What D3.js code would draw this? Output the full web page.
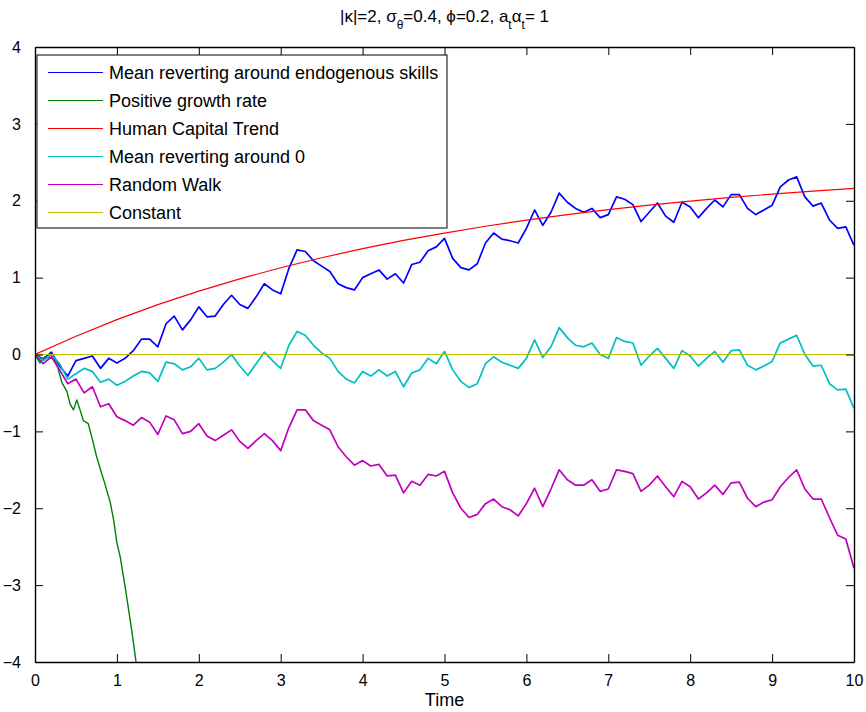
<!DOCTYPE html>
<html>
<head>
<meta charset="utf-8">
<script src="https://cdn.jsdelivr.net/npm/d3@7"></script>
<style>
  body { margin: 0; background: #fff; }
  svg { font-family: "Liberation Sans", Arial, Helvetica, sans-serif; }
  .axis text { font-size: 16px; fill: #000; }
  .axis path, .axis line { stroke: #000; }
  .legend text { font-size: 18px; fill: #000; }
</style>
</head>
<body>
<div class="chart"></div>
<script>
// time grid shared by the three noisy paths
const timeGrid = [0, 0.1, 0.2, 0.3, 0.4, 0.5, 0.6, 0.7, 0.8, 0.9,
  1, 1.1, 1.2, 1.3, 1.4, 1.5, 1.6, 1.7, 1.8, 1.9,
  2, 2.1, 2.2, 2.3, 2.4, 2.5, 2.6, 2.7, 2.8, 2.9,
  3, 3.1, 3.2, 3.3, 3.4, 3.5, 3.6, 3.7, 3.8, 3.9,
  4, 4.1, 4.2, 4.3, 4.4, 4.5, 4.6, 4.7, 4.8, 4.9,
  5, 5.1, 5.2, 5.3, 5.4, 5.5, 5.6, 5.7, 5.8, 5.9,
  6, 6.1, 6.2, 6.3, 6.4, 6.5, 6.6, 6.7, 6.8, 6.9,
  7, 7.1, 7.2, 7.3, 7.4, 7.5, 7.6, 7.7, 7.8, 7.9,
  8, 8.1, 8.2, 8.3, 8.4, 8.5, 8.6, 8.7, 8.8, 8.9,
  9, 9.1, 9.2, 9.3, 9.4, 9.5, 9.6, 9.7, 9.8, 9.9, 10]

const meanRevEndo = [0, -0.06, 0.03, -0.15, -0.28, -0.08, -0.05, -0.02, -0.18, -0.05,
  -0.11, -0.05, 0.05, 0.2, 0.2, 0.1, 0.4, 0.5, 0.32, 0.45,
  0.62, 0.49, 0.5, 0.65, 0.77, 0.65, 0.6, 0.75, 0.92, 0.84,
  0.79, 1.12, 1.36, 1.34, 1.22, 1.15, 1.08, 0.92, 0.87, 0.84,
  1.0, 1.05, 1.1, 0.98, 1.05, 0.93, 1.17, 1.2, 1.35, 1.4,
  1.51, 1.25, 1.13, 1.1, 1.18, 1.45, 1.58, 1.5, 1.48, 1.45,
  1.64, 1.88, 1.68, 1.85, 2.1, 1.98, 1.9, 1.85, 1.9, 1.78,
  1.82, 2.05, 2.02, 1.95, 1.73, 1.85, 1.97, 1.8, 1.72, 1.98,
  1.92, 1.78, 1.9, 2.01, 1.92, 2.08, 2.08, 1.9, 1.82, 1.88,
  1.94, 2.18, 2.27, 2.31, 2.05, 1.93, 1.97, 1.75, 1.64, 1.66, 1.42]

const meanRevZero = [0, -0.08, 0.0, -0.12, -0.32, -0.25, -0.18, -0.22, -0.36, -0.32,
  -0.4, -0.35, -0.28, -0.22, -0.24, -0.35, -0.1, -0.12, -0.2, -0.16,
  -0.05, -0.2, -0.18, -0.1, 0.0, -0.15, -0.27, -0.12, 0.03, -0.08,
  -0.18, 0.12, 0.3, 0.25, 0.12, 0.02, -0.05, -0.22, -0.32, -0.37,
  -0.22, -0.28, -0.2, -0.28, -0.22, -0.42, -0.24, -0.2, -0.05, -0.12,
  0.04, -0.2, -0.35, -0.43, -0.38, -0.12, -0.03, -0.1, -0.14, -0.18,
  -0.05, 0.19, -0.04, 0.1, 0.35, 0.22, 0.12, 0.1, 0.15, 0.0,
  -0.05, 0.22, 0.17, 0.15, -0.14, -0.02, 0.08, -0.05, -0.18, 0.05,
  -0.02, -0.15, -0.05, 0.04, -0.1, 0.05, 0.06, -0.14, -0.2, -0.15,
  -0.09, 0.15, 0.2, 0.25, 0.0, -0.15, -0.14, -0.38, -0.46, -0.45, -0.7]

const randomWalk = [0, -0.12, -0.03, -0.2, -0.38, -0.32, -0.5, -0.42, -0.68, -0.64,
  -0.81, -0.86, -0.92, -0.82, -0.88, -1.04, -0.8, -0.85, -1.03, -1.0,
  -0.9, -1.06, -1.12, -1.05, -0.98, -1.13, -1.22, -1.12, -1.03, -1.12,
  -1.25, -0.95, -0.72, -0.72, -0.86, -0.92, -0.98, -1.2, -1.33, -1.44,
  -1.38, -1.45, -1.43, -1.58, -1.57, -1.8, -1.65, -1.7, -1.56, -1.58,
  -1.52, -1.8, -2.0, -2.12, -2.08, -1.94, -1.88, -1.98, -2.02, -2.1,
  -1.94, -1.74, -1.98, -1.75, -1.5, -1.63, -1.7, -1.7, -1.63, -1.78,
  -1.75, -1.5, -1.52, -1.55, -1.78, -1.7, -1.58, -1.72, -1.85, -1.65,
  -1.72, -1.88, -1.8, -1.7, -1.82, -1.67, -1.66, -1.87, -1.98, -1.92,
  -1.89, -1.72, -1.6, -1.5, -1.75, -1.88, -1.88, -2.12, -2.35, -2.4, -2.78]

// smooth human capital trend
const trendTimes = [0, 0.5, 1, 1.5, 2, 2.5, 3, 3.5, 4, 4.5, 5, 5.5, 6, 6.5, 7, 7.5, 8, 8.5, 9, 9.5, 10]
const trendValues = [0, 0.238, 0.453, 0.648, 0.824, 0.984, 1.128, 1.258, 1.377, 1.484, 1.58,
  1.668, 1.747, 1.819, 1.884, 1.942, 1.995, 2.043, 2.087, 2.126, 2.162]

// positive growth rate path (leaves the frame at -4)
const growthTimes = [0, 0.06, 0.12, 0.18, 0.22, 0.28, 0.33, 0.39, 0.43, 0.47, 0.51, 0.55, 0.59,
  0.65, 0.7, 0.75, 0.8, 0.85, 0.92, 0.96, 1.0, 1.04, 1.1, 1.14, 1.18, 1.24]
const growthValues = [0, -0.11, -0.03, -0.05, -0.02, -0.18, -0.37, -0.48, -0.65, -0.72, -0.59, -0.72, -0.86,
  -0.9, -1.1, -1.32, -1.5, -1.67, -1.93, -2.15, -2.45, -2.63, -3.02, -3.3, -3.58, -4.05]

const constantTimes = [0, 10]
const constantValues = [0, 0]

const xTicks = [0, 1, 2, 3, 4, 5, 6, 7, 8, 9, 10]
const yTicks = [-4, -3, -2, -1, 0, 1, 2, 3, 4]

const seriesLabels = ['Mean reverting around endogenous skills', 'Positive growth rate',
  'Human Capital Trend', 'Mean reverting around 0', 'Random Walk', 'Constant']
const seriesColors = ['#0000ff', '#008000', '#ff0000', '#00bfbf', '#bf00bf', '#bfbf00']

const series = [
  { times: timeGrid, values: meanRevEndo, w: 1.7 },
  { times: growthTimes, values: growthValues, w: 1.4 },
  { times: trendTimes, values: trendValues, w: 1.2 },
  { times: timeGrid, values: meanRevZero, w: 1.7 },
  { times: timeGrid, values: randomWalk, w: 1.7 },
  { times: constantTimes, values: constantValues, w: 1.2 }
]

const width = 866
const height = 712
const margin = { top: 47, right: 12, bottom: 50, left: 35 }
const innerWidth = width - margin.left - margin.right
const innerHeight = height - margin.top - margin.bottom

const svg = d3.select('.chart')
  .append('svg')
  .attr('width', width)
  .attr('height', height)

const g = svg.append('g')
  .attr('transform', `translate(${margin.left},${margin.top})`)

const x = d3.scaleLinear().domain([0, 10]).range([0, innerWidth])
const y = d3.scaleLinear().domain([-4, 4]).range([innerHeight, 0])

svg.append('defs').append('clipPath')
  .attr('id', 'plotClip')
  .append('rect')
  .attr('width', innerWidth)
  .attr('height', innerHeight)

// lines
const line = d3.line()
  .x(d => x(d[0]))
  .y(d => y(d[1]))

const lines = g.append('g').attr('clip-path', 'url(#plotClip)')

series.forEach((s, i) => {
  lines.append('path')
    .datum(s.times.map((t, j) => [t, s.values[j]]))
    .attr('fill', 'none')
    .attr('stroke', seriesColors[i])
    .attr('stroke-width', s.w)
    .attr('stroke-linejoin', 'round')
    .attr('d', line)
})

// axes, ticks inward on all four sides
g.append('g')
  .attr('class', 'axis')
  .attr('transform', `translate(0,${innerHeight})`)
  .call(d3.axisBottom(x).tickValues(xTicks).tickSizeInner(-8).tickSizeOuter(0).tickPadding(13))

g.append('g')
  .attr('class', 'axis')
  .call(d3.axisLeft(y).tickValues(yTicks).tickSizeInner(-8).tickSizeOuter(0).tickPadding(14))

g.append('g')
  .attr('class', 'axis axis--bare')
  .call(d3.axisTop(x).tickValues(xTicks).tickSizeInner(-8).tickSizeOuter(0))

g.append('g')
  .attr('class', 'axis axis--bare')
  .attr('transform', `translate(${innerWidth},0)`)
  .call(d3.axisRight(y).tickValues(yTicks).tickSizeInner(-8).tickSizeOuter(0))

// top and right only carry tick marks
g.selectAll('.axis--bare text').remove()
g.selectAll('.axis .domain').attr('stroke-width', 1.4)

// title with subscripts
const title = svg.append('text')
  .attr('x', margin.left + innerWidth / 2)
  .attr('y', 22)
  .attr('text-anchor', 'middle')
  .style('font-size', '17px')

title.append('tspan').text('|κ|=2, σ')
title.append('tspan').attr('dy', 7).style('font-size', '12px').text('θ')
title.append('tspan').attr('dy', -7).text('=0.4, ϕ=0.2, a')
title.append('tspan').attr('dy', 7).style('font-size', '12px').text('t')
title.append('tspan').attr('dy', -7).text('α')
title.append('tspan').attr('dy', 7).style('font-size', '12px').text('t')
title.append('tspan').attr('dy', -7).text('= 1')

// x label
svg.append('text')
  .attr('x', margin.left + innerWidth / 2)
  .attr('y', 706)
  .attr('text-anchor', 'middle')
  .style('font-size', '18px')
  .text('Time')

// legend
const legend = g.append('g')
  .attr('class', 'legend')
  .attr('transform', 'translate(2,8)')

legend.append('rect')
  .attr('width', 410)
  .attr('height', 173)
  .attr('fill', '#fff')
  .attr('stroke', '#000')
  .attr('stroke-width', 1)

seriesLabels.forEach((label, i) => {
  const row = legend.append('g')
    .attr('transform', `translate(0,${17.5 + i * 28})`)

  row.append('line')
    .attr('x1', 11)
    .attr('x2', 66)
    .attr('stroke', seriesColors[i])
    .attr('stroke-width', 1.2)

  row.append('text')
    .attr('x', 72)
    .attr('dy', '0.35em')
    .text(label)
})
</script>
</body>
</html>
